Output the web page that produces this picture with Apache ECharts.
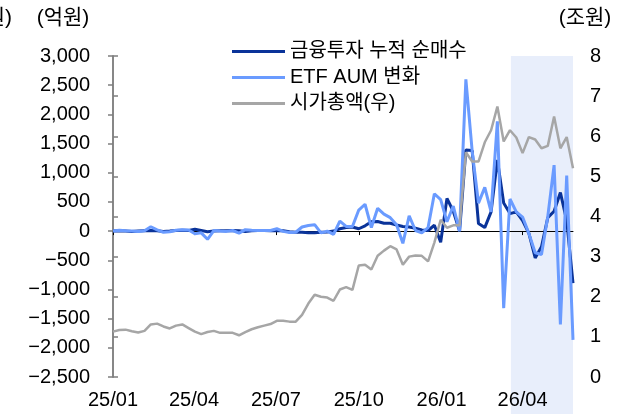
<!DOCTYPE html>
<html>
<head>
<meta charset="utf-8">
<script src="https://cdn.jsdelivr.net/npm/echarts@6/dist/echarts.min.js"></script>
<style>
  html, body { margin: 0; padding: 0; background: #fff; }
  #chart { width: 635px; height: 414px; }
</style>
</head>
<body>
<div id="chart"></div>
<script>
// Weekly observations, first week and step
const firstWeek = '2025-01-01';
const weekStepDays = 7;

// 금융투자 누적 순매수 (억원, left axis)
const netBuying = [
  0, 5, 0, -5, 0, 5, 10, 5, -5, 0,
  10, 15, 10, 30, 10, -10, 0, 5, 5, 10,
  5, -5, 5, 10, 10, 5, 10, 5, -10, -20,
  -20, -30, -30, -20, -15, 0, 40, 60, 70, 40,
  90, 160, 165, 135, 135, 105, 80, 70, 50, 20,
  10, 100, -190, 560, 340, 0, 1390, 1380, 130, 60,
  330, 1220, 480, 300, 330, 180, -40, -460, -270, 230,
  340, 660, 180, -890
];

// ETF AUM 변화 (억원, left axis)
const etfAumChange = [
  0, 15, 5, 0, -5, 5, 75, 20, -20, -10,
  15, 25, 20, -45, -30, -140, 10, 0, -5, 10,
  -35, 25, 15, 10, 10, 10, 40, -5, -25, -20,
  70, 95, 110, -30, 0, -55, 170, 80, 80, 360,
  460, 60, 390, 290, 230, 110, -210, 260, 10, -30,
  60, 640, 540, 160, 430, 0, 2600, 1370, 480, 750,
  330, 1880, -1320, 550, 330, 240, -40, -370, -400, 250,
  1130, -1600, 950, -1864
];

// 시가총액 (조원, right axis)
const marketCap = [
  1.13, 1.17, 1.18, 1.14, 1.11, 1.15, 1.31, 1.33, 1.26, 1.21,
  1.28, 1.31, 1.22, 1.13, 1.07, 1.12, 1.15, 1.10, 1.10, 1.10,
  1.04, 1.12, 1.19, 1.24, 1.28, 1.32, 1.40, 1.40, 1.38, 1.38,
  1.55, 1.83, 2.05, 2.00, 1.98, 1.90, 2.18, 2.24, 2.17, 2.78,
  2.80, 2.68, 3.02, 3.15, 3.26, 3.18, 2.80, 3.00, 3.03, 3.02,
  2.88, 3.35, 3.92, 3.72, 3.78, 3.78, 5.60, 5.37, 5.37, 5.85,
  6.15, 6.74, 5.87, 6.15, 5.97, 5.58, 5.98, 5.92, 5.70, 5.76,
  6.49, 5.70, 5.98, 5.20
];

const seriesNames = ['금융투자 누적 순매수', 'ETF AUM 변화', '시가총액(우)'];
const tickDates = ['2025-01-01', '2025-04-01', '2025-07-01', '2025-10-01', '2026-01-01', '2026-04-01'];
const tickLabels = ['25/01', '25/04', '25/07', '25/10', '26/01', '26/04'];
const shadeStart = '2026-03-19';

// x positions are day offsets from the first week
const DAY = 86400000;
const t0 = Date.parse(firstWeek);
const dayOf = d => Math.round((Date.parse(d) - t0) / DAY);
const weekDays = netBuying.map((_, i) => i * weekStepDays);
const xMin = weekDays[0];
const xMax = weekDays[weekDays.length - 1];
const tickDays = tickDates.map(dayOf);

const pair = arr => arr.map((v, i) => [weekDays[i], v]);

const numFont = "'Liberation Sans', Arial, sans-serif";
const krFont = "'Liberation Sans', 'Noto Sans CJK KR', sans-serif";
const axisGray = '#7f7f7f';
const tickFontSize = 20;

const fmtLeft = v => {
  const s = Math.abs(v).toLocaleString('en-US');
  return v < 0 ? '\u2212' + s : s;
};

const chart = echarts.init(document.getElementById('chart'));

chart.setOption({
  animation: false,
  grid: { left: 113, right: 62, top: 56, bottom: 37 },
  legend: {
    orient: 'vertical',
    left: 227,
    top: 36,
    itemWidth: 53,
    itemHeight: 3,
    itemGap: 5,
    icon: 'rect',
    textStyle: { fontFamily: krFont, fontSize: 20, lineHeight: 21, color: '#000' },
    data: seriesNames
  },
  xAxis: [
    {
      type: 'value',
      min: xMin,
      max: xMax,
      axisLine: { show: false, onZero: false },
      axisTick: { show: false },
      splitLine: { show: false },
      axisLabel: {
        customValues: tickDays,
        formatter: v => { const i = tickDays.indexOf(v); return i >= 0 ? tickLabels[i] : ''; },
        margin: 13,
        fontFamily: numFont,
        fontSize: tickFontSize,
        color: '#000'
      }
    },
    {
      type: 'value',
      position: 'bottom',
      min: xMin,
      max: xMax,
      axisLine: { show: true, onZero: true, onZeroAxisIndex: 0, lineStyle: { color: '#000', width: 1 } },
      axisTick: { show: true, customValues: tickDays, length: 4, lineStyle: { color: '#000' } },
      axisLabel: { show: false },
      splitLine: { show: false }
    }
  ],
  yAxis: [
    {
      type: 'value',
      min: -2500,
      max: 3000,
      interval: 500,
      axisLine: { show: true, lineStyle: { color: axisGray, width: 1.5 } },
      axisTick: { show: true, length: 5, lineStyle: { color: axisGray, width: 1.5 } },
      splitLine: { show: false },
      axisLabel: { formatter: fmtLeft, margin: 23, fontFamily: numFont, fontSize: tickFontSize, color: '#000' }
    },
    {
      type: 'value',
      position: 'right',
      min: 0,
      max: 8,
      interval: 1,
      axisLine: { show: true, lineStyle: { color: axisGray, width: 1.5 } },
      axisTick: { show: true, length: 5, lineStyle: { color: axisGray, width: 1.5 } },
      splitLine: { show: false },
      axisLabel: { margin: 17, fontFamily: numFont, fontSize: tickFontSize, color: '#000' }
    }
  ],
  series: [
    {
      name: seriesNames[0],
      type: 'line',
      xAxisIndex: 0,
      yAxisIndex: 0,
      data: pair(netBuying),
      showSymbol: false,
      lineStyle: { color: '#0a3399', width: 3 },
      itemStyle: { color: '#0a3399' },
      z: 3
    },
    {
      name: seriesNames[1],
      type: 'line',
      xAxisIndex: 0,
      yAxisIndex: 0,
      data: pair(etfAumChange),
      showSymbol: false,
      lineStyle: { color: '#6a9bff', width: 3 },
      itemStyle: { color: '#6a9bff' },
      z: 4
    },
    {
      name: seriesNames[2],
      type: 'line',
      xAxisIndex: 0,
      yAxisIndex: 1,
      data: pair(marketCap),
      showSymbol: false,
      lineStyle: { color: '#a6a6a6', width: 2.5 },
      itemStyle: { color: '#a6a6a6' },
      z: 5
    }
  ]
});

// Highlighted recent period, unit captions
const x0 = chart.convertToPixel({ xAxisIndex: 0 }, dayOf(shadeStart));
const x1 = chart.convertToPixel({ xAxisIndex: 0 }, xMax);
const yTop = chart.convertToPixel({ yAxisIndex: 0 }, 3000);
const H = chart.getHeight();
const xLeft = chart.convertToPixel({ xAxisIndex: 0 }, xMin);

const capStyle = { fontFamily: krFont, fontSize: 21, fill: '#000', textVerticalAlign: 'middle' };

chart.setOption({
  graphic: [
    { type: 'rect', z: -10, silent: true,
      shape: { x: x0, y: yTop, width: x1 - x0, height: H - yTop },
      style: { fill: '#e8eefb' } },
    { type: 'text', x: xLeft - 50, y: yTop - 38,
      style: Object.assign({ text: '(억원)', textAlign: 'center' }, capStyle) },
    { type: 'text', x: x1 + 12, y: yTop - 38,
      style: Object.assign({ text: '(조원)', textAlign: 'center' }, capStyle) },
    { type: 'text', x: 12, y: yTop - 38,
      style: Object.assign({ text: '(조원)', textAlign: 'right' }, capStyle) }
  ]
});
</script>
</body>
</html>
